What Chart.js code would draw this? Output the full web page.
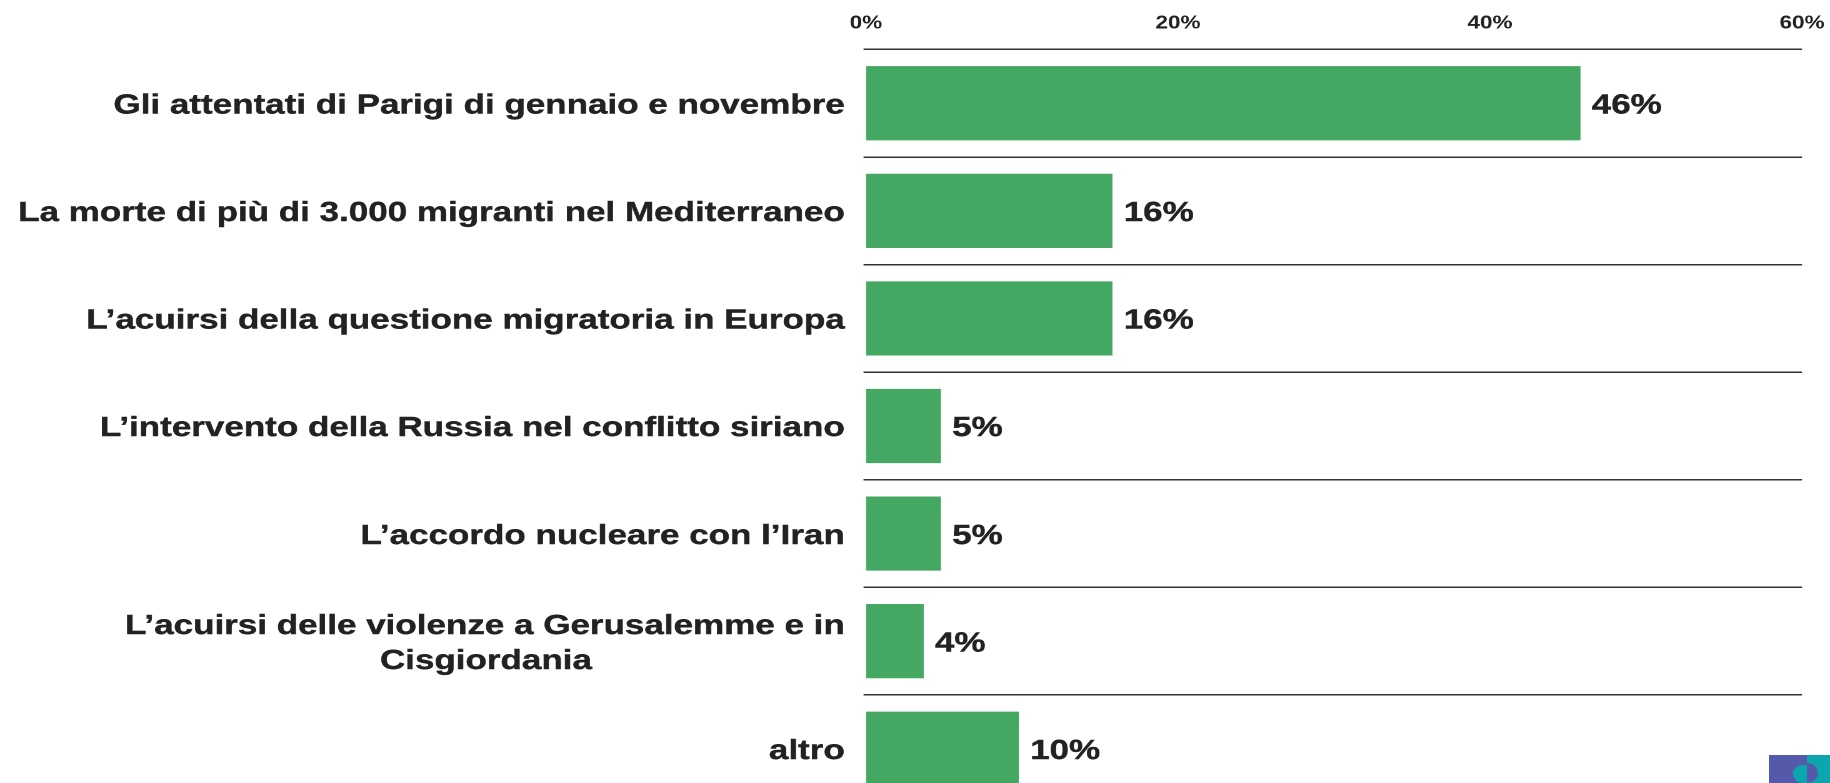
<!DOCTYPE html>
<html lang="it"><head><meta charset="utf-8">
<script src="https://cdn.jsdelivr.net/npm/chart.js@4"></script>
<style>
html,body{margin:0;padding:0;width:1830px;height:783px;overflow:hidden;background:#fff}
#wrap{position:absolute;left:0;top:0;transform-origin:0 0;}
#logo{position:absolute;left:1769px;top:755px;width:61px;height:28px;background:#5559a9;overflow:hidden}
#logo i{position:absolute;display:block}
</style></head><body>
<div id="wrap"><canvas id="c"></canvas></div>
<div id="logo">
<i style="left:38px;top:0;width:23px;height:28px;background:#0aa5ad"></i>
<i style="left:24px;top:10px;width:14px;height:18px;background:#0aa5ad;border-radius:14px 0 0 14px"></i>
<i style="left:38px;top:8px;width:11px;height:20px;background:#5559a9;border-radius:0 11px 11px 0"></i>
</div>
<script>
const categories = [
  'Gli attentati di Parigi di gennaio e novembre',
  'La morte di più di 3.000 migranti nel Mediterraneo',
  'L’acuirsi della questione migratoria in Europa',
  'L’intervento della Russia nel conflitto siriano',
  'L’accordo nucleare con l’Iran',
  ['L’acuirsi delle violenze a Gerusalemme e in', 'Cisgiordania'],
  'altro'
];
const barValues = [45.8, 15.8, 15.8, 4.8, 4.8, 3.7, 9.8];
const valueLabels = ['46%', '16%', '16%', '5%', '5%', '4%', '10%'];
const xTicks = [0, 20, 40, 60];

const stretch = 1.25;
const fullW = 1830, fullH = 840;
const W = fullW / stretch;
const FAMILY = '"Liberation Sans", Arial, sans-serif';
const wrap = document.getElementById('wrap');
wrap.style.transform = `scaleX(${stretch})`;
wrap.style.width = W + 'px';
const NBSP = '\u00a0';
const TEXT_SHIFT = 2.5;

const valueLabelPlugin = {
  id: 'valueLabels',
  beforeDraw(chart) {
    const items = chart.scales.y.getLabelItems(chart.chartArea);
    if (!items._shifted) {
      items.forEach(it => { it.options.translation[1] += TEXT_SHIFT; });
      items._shifted = true;
    }
  },
  afterDatasetsDraw(chart) {
    const ctx = chart.ctx;
    const meta = chart.getDatasetMeta(0);
    ctx.save();
    ctx.font = 'bold 28px ' + FAMILY;
    ctx.fillStyle = '#222';
    ctx.strokeStyle = '#222';
    ctx.lineWidth = 0.4;
    ctx.textBaseline = 'middle';
    ctx.textAlign = 'left';
    meta.data.forEach((bar, i) => {
      ctx.fillText(valueLabels[i], bar.x + 9, bar.y + TEXT_SHIFT);
      ctx.strokeText(valueLabels[i], bar.x + 9, bar.y + TEXT_SHIFT);
    });
    ctx.restore();
  }
};

const canvas = document.getElementById('c');
canvas.width = W; canvas.height = fullH;
new Chart(canvas, {
  type: 'bar',
  data: { labels: categories, datasets: [{ data: barValues, backgroundColor: '#45a862', barPercentage: 0.69, categoryPercentage: 1 }] },
  options: {
    indexAxis: 'y', responsive: false, maintainAspectRatio: false, animation: false, devicePixelRatio: 2,
    layout: { padding: { left: 0, right: (1830 - 1802) / stretch, top: 0, bottom: fullH - 802.5 } },
    plugins: { legend: { display: false }, tooltip: { enabled: false } },
    scales: {
      x: {
        position: 'top', min: 0, max: 60,
        afterBuildTicks(s) { s.ticks = xTicks.map(v => ({ value: v })); },
        afterFit(s) { s.height = 49.5; s.paddingLeft = 0; s.paddingRight = 0; },
        grid: { display: false }, border: { display: false },
        ticks: { color: '#222', padding: 7, maxRotation: 0, font: { family: FAMILY, size: 18, weight: 'bold' }, callback: v => v + '%' }
      },
      y: {
        afterFit(s) { s.width = 866 / stretch; s.paddingTop = 0; s.paddingBottom = 0; },
        grid: { color: '#333', lineWidth: 1.5, tickColor: '#333', tickLength: 2, offset: true },
        border: { display: false },
        ticks: {
          color: '#222', padding: 15, autoSkip: false,
          textStrokeColor: '#222', textStrokeWidth: 0.4,
          font: { family: FAMILY, size: 28, weight: 'bold', lineHeight: 1.25 },
          callback(v) {
            const lab = categories[v];
            return Array.isArray(lab) ? [lab[0], lab[1] + NBSP.repeat(26)] : lab;
          }
        }
      }
    }
  },
  plugins: [valueLabelPlugin]
});
</script>
</body></html>
